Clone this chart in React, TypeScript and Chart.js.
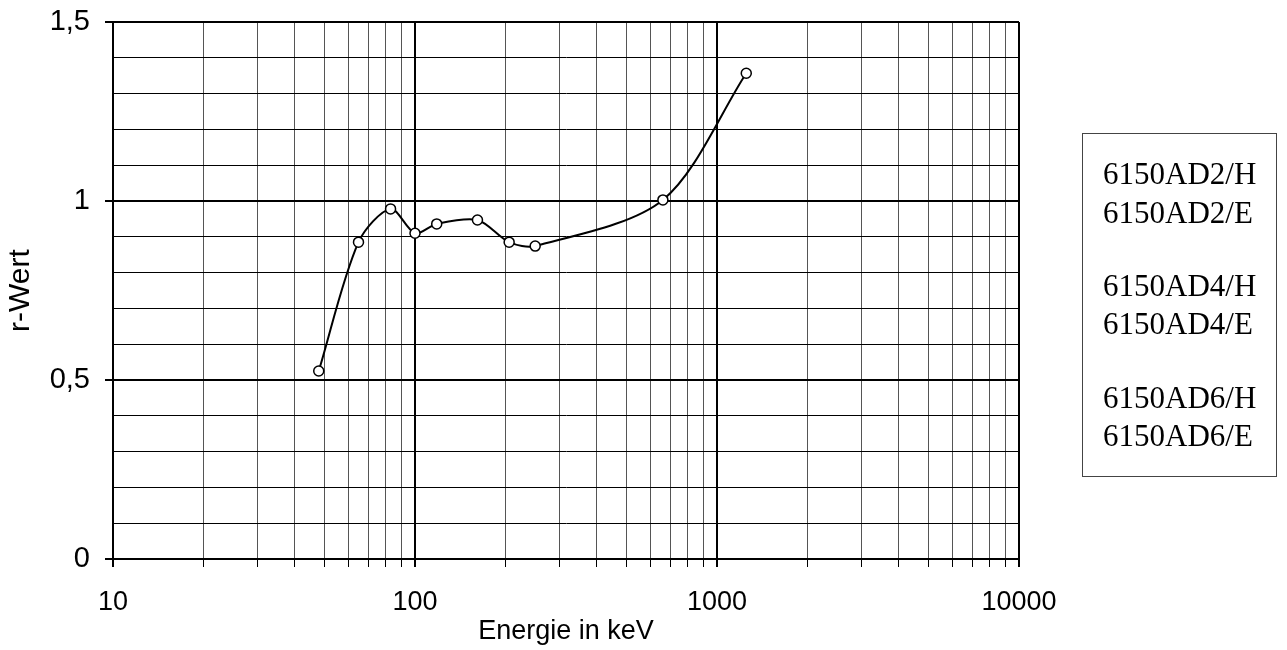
import React, { useEffect, useRef } from 'react';
import { Chart, registerables } from 'chart.js';

Chart.register(...registerables);

// ---- data ----
const energies = [48, 65, 83, 100, 118, 161, 205, 250, 662, 1250];
const rValues = [0.525, 0.885, 0.978, 0.91, 0.936, 0.947, 0.885, 0.874, 1.003, 1.357];
const xDecades = [10, 100, 1000, 10000];
const xMultipliers = [1, 2, 3, 4, 5, 6, 7, 8, 9];
const yMajorTicks = [0, 0.5, 1, 1.5];
const legendGroups = [
  ['6150AD2/H', '6150AD2/E'],
  ['6150AD4/H', '6150AD4/E'],
  ['6150AD6/H', '6150AD6/E'],
];

const xTickValues: number[] = [];
xDecades.forEach((d, i) => {
  if (i === xDecades.length - 1) {
    xTickValues.push(d);
  } else {
    xMultipliers.forEach((m) => xTickValues.push(d * m));
  }
});

const isDecade = (v: number) => xDecades.some((d) => Math.abs(d - v) < 1e-9);
const isYMajor = (v: number) => yMajorTicks.some((t) => Math.abs(t - v) < 1e-6);
const fmtY = (v: number) => String(Math.round(v * 10) / 10).replace('.', ',');

const SANS = "'Liberation Sans', Arial, sans-serif";
const SERIF = "'Liberation Serif', 'Times New Roman', serif";

export default function App() {
  const canvasRef = useRef<HTMLCanvasElement | null>(null);

  useEffect(() => {
    const canvas = canvasRef.current;
    if (!canvas) return;
    const chart = new Chart(canvas, {
      type: 'line',
      data: {
        datasets: [
          {
            data: energies.map((x, i) => ({ x, y: rValues[i] })),
            borderColor: '#000',
            borderWidth: 2,
            tension: 0.3,
            pointRadius: 5,
            pointBackgroundColor: '#fff',
            pointBorderColor: '#000',
            pointBorderWidth: 1.5,
            fill: false,
          },
        ],
      },
      options: {
        animation: false,
        responsive: false,
        layout: { padding: { top: 22, right: 268, left: 0, bottom: 0 } },
        plugins: { legend: { display: false }, tooltip: { enabled: false } },
        scales: {
          x: {
            type: 'logarithmic',
            min: 10,
            max: 10000,
            afterBuildTicks: (s: any) => {
              s.ticks = xTickValues.map((v) => ({ value: v, major: isDecade(v) }));
            },
            afterFit: (s: any) => {
              s.height = 91;
            },
            ticks: {
              autoSkip: false,
              maxRotation: 0,
              minRotation: 0,
              padding: 19,
              color: '#000',
              font: { family: SANS, size: 27 },
              callback: (v: any) => (isDecade(Number(v)) ? String(v) : ''),
            },
            grid: {
              color: (ctx: any) => (ctx.tick && isDecade(ctx.tick.value) ? '#000' : '#555'),
              lineWidth: (ctx: any) => (ctx.tick && isDecade(ctx.tick.value) ? 2 : 1),
              tickLength: 8,
              tickColor: '#000',
              tickWidth: (ctx: any) => (ctx.tick && isDecade(ctx.tick.value) ? 2 : 1),
            },
            border: { display: true, color: '#000', width: 2 },
            title: {
              display: true,
              text: 'Energie in keV',
              color: '#000',
              font: { family: SANS, size: 27 },
              padding: { top: 0, bottom: 2 },
            },
          },
          y: {
            type: 'linear',
            min: 0,
            max: 1.5,
            afterFit: (s: any) => {
              s.width = 113;
              s.paddingTop = 0;
              s.paddingBottom = 0;
            },
            ticks: {
              stepSize: 0.1,
              autoSkip: false,
              padding: 15,
              color: '#000',
              font: { family: SANS, size: 29 },
              callback: (v: any) => (isYMajor(Number(v)) ? fmtY(Number(v)) : ''),
            },
            grid: {
              color: '#000',
              lineWidth: (ctx: any) => (ctx.tick && isYMajor(ctx.tick.value) ? 2 : 1),
              tickLength: 8,
              tickColor: (ctx: any) => (ctx.tick && isYMajor(ctx.tick.value) ? '#000' : 'rgba(0,0,0,0)'),
              tickWidth: 2,
            },
            border: { display: true, color: '#000', width: 2 },
            title: {
              display: true,
              text: 'r-Wert',
              color: '#000',
              font: { family: SANS, size: 30 },
              padding: { top: 3, bottom: 0 },
            },
          },
        },
      },
    } as any);
    return () => chart.destroy();
  }, []);

  const rowCenters = [[173, 212], [285, 323], [397, 435]];

  return (
    <div style={{ position: 'absolute', left: 0, top: 0, width: 1287, height: 650, background: '#fff' }}>
      <canvas ref={canvasRef} width={1287} height={650} style={{ display: 'block', width: 1287, height: 650 }} />
      <div
        style={{
          position: 'absolute',
          left: 1082,
          top: 133,
          width: 195,
          height: 344,
          border: '1px solid #444',
          boxSizing: 'border-box',
        }}
      >
        {legendGroups.map((group, gi) =>
          group.map((label, li) => (
            <div
              key={label}
              style={{
                position: 'absolute',
                left: 20,
                top: rowCenters[gi][li] - 133 - 16,
                height: 32,
                lineHeight: '32px',
                fontFamily: SERIF,
                fontSize: 31,
                color: '#000',
                whiteSpace: 'nowrap',
              }}
            >
              {label}
            </div>
          ))
        )}
      </div>
    </div>
  );
}
